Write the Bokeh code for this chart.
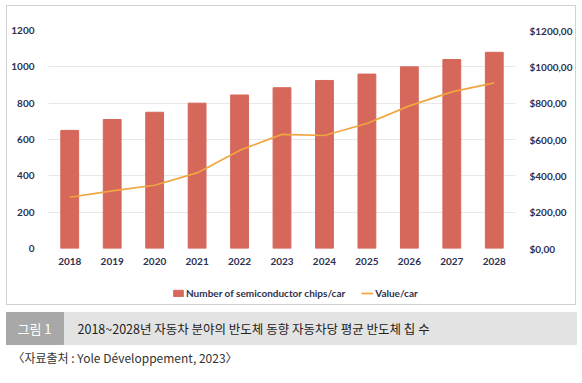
from bokeh.plotting import figure
from bokeh.models import Range1d, LinearAxis, Legend, LegendItem, FixedTicker, Label, ColumnDataSource, FactorRange
from bokeh.layouts import column
from bokeh.embed import file_html
from bokeh.resources import INLINE

years = ["2018", "2019", "2020", "2021", "2022", "2023", "2024", "2025", "2026", "2027", "2028"]
chips_per_car = [650, 710, 750, 800, 845, 885, 925, 960, 1000, 1040, 1080]
value_per_car = [282, 317, 348, 416, 540, 628, 622, 688, 785, 862, 912]
left_ticks = [0, 200, 400, 600, 800, 1000, 1200]
right_tick_labels = ["$0,00", "$200,00", "$400,00", "$600,00", "$800,00", "$1000,00", "$1200,00"]
series_names = ["Number of semiconductor chips/car", "Value/car"]

BAR = "#d6675b"
LINE = "#f0a53e"
TXT = "#2d3050"
FONT = "Lato"
KFONT = "Noto Sans CJK KR"

src = ColumnDataSource(dict(year=years, chips=chips_per_car, value=value_per_car))

# ---- chart ----
p = figure(width=568, height=266, x_range=FactorRange(*years, range_padding=0),
           y_range=Range1d(0, 1200), output_backend="svg", toolbar_location=None,
           min_border_left=41, min_border_right=55, min_border_top=24, min_border_bottom=24)
p.frame_align = False
p.extra_y_ranges = {"value": Range1d(0, 1200)}
p.outline_line_color = None

p.vbar(x="year", top="chips", width=0.42, color=BAR, source=src)
p.line(x="year", y="value", y_range_name="value", line_color=LINE, line_width=1.7, source=src)

p.xgrid.grid_line_color = None
p.ygrid.grid_line_color = "#e8e8e8"
p.ygrid.ticker = FixedTicker(ticks=left_ticks)

def style_axis(ax):
    ax.axis_line_color = None
    ax.major_tick_line_color = None
    ax.minor_tick_line_color = None
    ax.major_label_text_font = FONT
    ax.major_label_text_font_style = "bold"
    ax.major_label_text_font_size = "10px"
    ax.major_label_text_color = TXT

p.yaxis.ticker = FixedTicker(ticks=left_ticks)
style_axis(p.yaxis[0])
p.yaxis.major_label_standoff = 8
style_axis(p.xaxis[0])
p.xaxis.major_label_standoff = 3

ry = LinearAxis(y_range_name="value", ticker=FixedTicker(ticks=left_ticks),
                major_label_overrides={t: s for t, s in zip(left_ticks, right_tick_labels)})
style_axis(ry)
ry.major_label_standoff = 8
p.add_layout(ry, "right")

# ---- legend strip (swatch renderers sit outside the visible range) ----
lg = figure(width=568, height=32, x_range=Range1d(0, 568), y_range=Range1d(0, 32),
            output_backend="svg", toolbar_location=None, min_border=0)
lg.frame_align = False
lg.axis.visible = False
lg.grid.grid_line_color = None
lg.outline_line_color = None
swatch = ColumnDataSource(dict(x=[-100, -90], y=[-100, -100]))
r_bar = lg.vbar(x="x", top="y", width=1, color=BAR, source=swatch)
r_line = lg.line(x="x", y="y", line_color=LINE, line_width=1.7, source=swatch)
legend = Legend(items=[LegendItem(label=series_names[0], renderers=[r_bar]),
                       LegendItem(label=series_names[1], renderers=[r_line])],
                orientation="horizontal", location=(165, 5), padding=0, margin=0,
                spacing=16, label_standoff=2, glyph_width=12, glyph_height=8,
                label_text_font=FONT, label_text_font_size="10px", label_text_color=TXT,
                label_text_font_style="bold", border_line_color=None, background_fill_alpha=0)
lg.add_layout(legend)

box = column(p, lg, spacing=0, margin=(5, 0, 0, 6),
             styles={"border": "1px solid #d2d2d2"})

# ---- caption ----
c = figure(width=582, height=77, x_range=Range1d(0, 582), y_range=Range1d(0, 77),
           output_backend="svg", toolbar_location=None, min_border=0)
c.frame_align = False
c.axis.visible = False
c.grid.grid_line_color = None
c.outline_line_color = None
c.quad(left=[6], right=[576], bottom=[38], top=[70], color="#e3e3e3")
c.quad(left=[6], right=[63], bottom=[38], top=[70], color="#a8a8a8")
c.add_layout(Label(x=34, y=54, text="그림 1", text_align="center", text_baseline="middle",
                   text_font=KFONT, text_font_size="13px", text_color="white"))
c.add_layout(Label(x=77, y=54, text="2018~2028년 자동차 분야의 반도체 동향 자동차당 평균 반도체 칩 수",
                   text_align="left", text_baseline="middle",
                   text_font=KFONT, text_font_size="12.5px", text_color="#222222"))
c.add_layout(Label(x=12, y=25, text="〈자료출처 : Yole Développement, 2023〉",
                   text_align="left", text_baseline="middle",
                   text_font=KFONT, text_font_size="12px", text_color="#333333"))

layout = column(box, c, spacing=0)
open("out.html", "w").write(file_html(layout, INLINE))
